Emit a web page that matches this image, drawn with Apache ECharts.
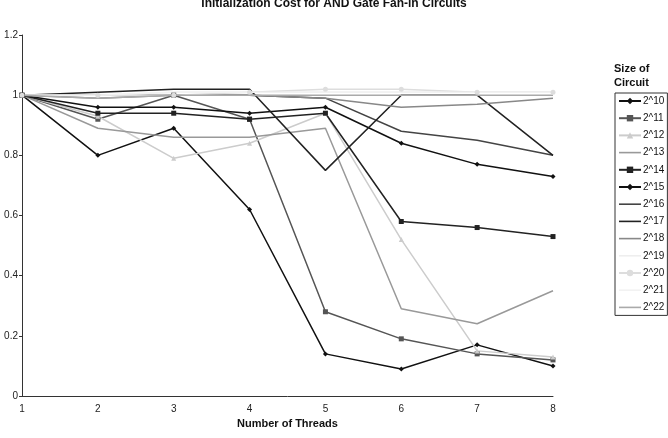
<!DOCTYPE html><html><head><meta charset="utf-8"><script src="https://cdn.jsdelivr.net/npm/echarts@6/dist/echarts.min.js"></script></head><body style="margin:0"><div id="c" style="width:668px;height:438px"></div><script>
const threads=['1','2','3','4','5','6','7','8'];
const names=['2^10','2^11','2^12','2^13','2^14','2^15','2^16','2^17','2^18','2^19','2^20','2^21','2^22'];
const s10=[1,0.80,0.89,0.62,0.14,0.09,0.17,0.10];
const s11=[1,0.92,1.0,0.92,0.28,0.19,0.14,0.12];
const s12=[1,0.93,0.79,0.84,0.94,0.52,0.15,0.13];
const s13=[1,0.89,0.86,0.86,0.89,0.29,0.24,0.35];
const s14=[1,0.94,0.94,0.92,0.94,0.58,0.56,0.53];
const s15=[1,0.96,0.96,0.94,0.96,0.84,0.77,0.73];
const s16=[1,1.0,1.0,1.0,0.99,0.88,0.85,0.80];
const s17=[1,1.01,1.02,1.02,0.75,1.0,1.0,0.80];
const s18=[1,0.99,1.0,1.0,0.99,0.96,0.97,0.99];
const s19=[1,1.0,1.01,1.01,1.01,1.01,1.01,1.01];
const s20=[1,1.0,1.0,1.01,1.02,1.02,1.01,1.01];
const s21=[1,1.0,1.01,1.01,1.01,1.01,1.01,1.01];
const s22=[1,0.99,1.0,1.0,1.0,1.0,1.0,1.0];
const data=[s10,s11,s12,s13,s14,s15,s16,s17,s18,s19,s20,s21,s22];
const colors=['#111','#555','#ccc','#999','#222','#111','#444','#222','#888','#eee','#ddd','#f2f2f2','#aaa'];
const syms=['diamond','rect','triangle','none','rect','diamond','none','none','none','none','circle','none','none'];
const lineIcon='path://M0,0h22v1.6h-22z';
const c=echarts.init(document.getElementById('c'));
c.setOption({animation:false,
title:{text:'Initialization Cost for AND Gate Fan-in Circuits',left:'center',top:-7,textStyle:{fontSize:12,fontWeight:'bold',fontFamily:'Liberation Sans',color:'#111'}},
graphic:[{type:'text',left:614,top:62,style:{text:'Size of\nCircuit',fontSize:11,fontWeight:'bold',fontFamily:'Liberation Sans',align:'center',lineHeight:14,fill:'#111'}}],
legend:{orient:'vertical',left:615,top:93,itemGap:7.2,itemWidth:22,itemHeight:8,padding:[3,3],borderColor:'#333',borderWidth:1,textStyle:{fontSize:10,fontFamily:'Liberation Sans',color:'#111',padding:[0,0,0,-3]},
 data:names.map((n,i)=>syms[i]==='none'?{name:n,icon:lineIcon,itemStyle:{color:colors[i]}}:{name:n})},
grid:{left:22,right:115,top:35,bottom:42},
xAxis:{type:'category',data:threads,boundaryGap:false,name:'Number of Threads',nameLocation:'middle',nameGap:20,nameTextStyle:{fontSize:11,fontWeight:'bold',fontFamily:'Liberation Sans',color:'#111'},axisLine:{lineStyle:{color:'#333'}},axisTick:{show:false},axisLabel:{fontSize:10,color:'#222',fontFamily:'Liberation Sans'}},
yAxis:{type:'value',min:0,max:1.2,interval:0.2,splitLine:{show:false},axisLine:{show:true,lineStyle:{color:'#333'}},axisTick:{show:true,length:3},axisLabel:{fontSize:10,color:'#222',fontFamily:'Liberation Sans',margin:4,formatter:v=>String(+v.toFixed(1))}},
series:names.map((n,i)=>({name:n,type:'line',data:data[i],color:colors[i],symbol:syms[i]==='none'?'circle':syms[i],symbolSize:5,showSymbol:syms[i]!=='none',lineStyle:{width:1.5,color:colors[i]},itemStyle:{color:colors[i]}}))
});
</script></body></html>
